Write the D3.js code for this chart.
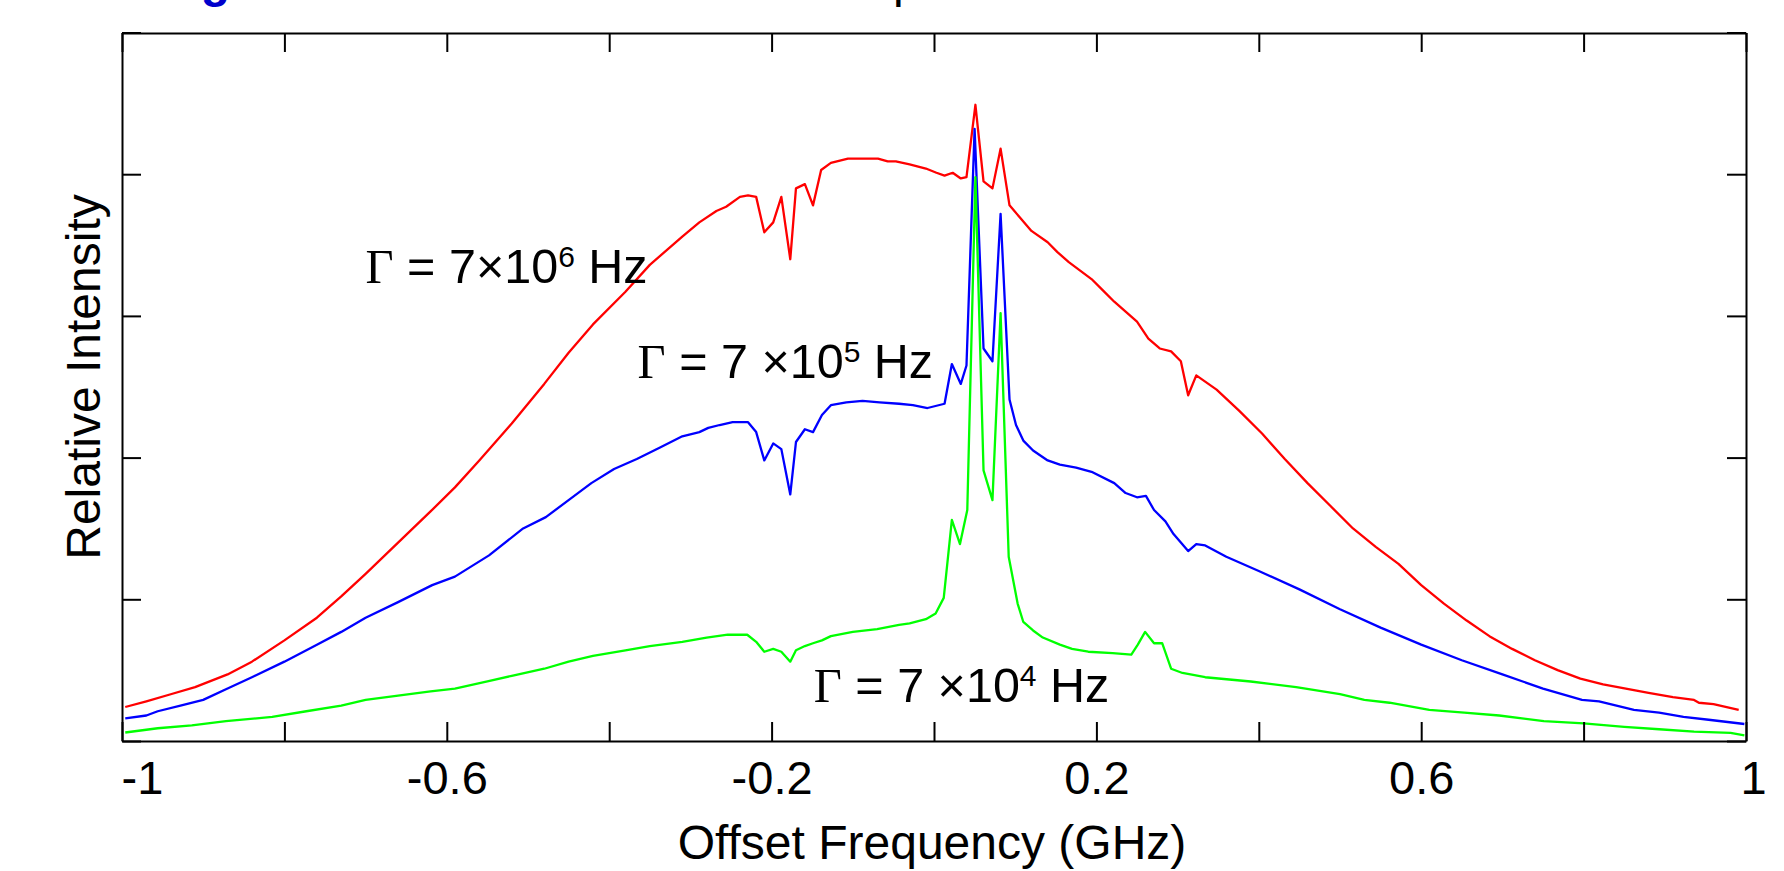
<!DOCTYPE html>
<html>
<head>
<meta charset="utf-8">
<script src="https://d3js.org/d3.v7.min.js"></script>
<style>
    body { margin: 0; background: #ffffff; }
    text { font-family: "Liberation Sans", Arial, sans-serif; }
</style>
</head>
<body>
<div id="drawing_region"></div>
<script>
// x ticks (GHz) and which of them carry a label
const xTickValues = [-1, -0.8, -0.6, -0.4, -0.2, 0, 0.2, 0.4, 0.6, 0.8, 1];
const xTickLabels = ["-1", "", "-0.6", "", "-0.2", "", "0.2", "", "0.6", "", "1"];
const yTickValues = [0, 1, 2, 3, 4, 5];

// [offset frequency (GHz), relative intensity]
const red = [
    [-0.996,0.24],[-0.97,0.28],[-0.94,0.33],[-0.91,0.38],[-0.87,0.47],[-0.84,0.56],[-0.80,0.71],
    [-0.76,0.87],[-0.73,1.02],[-0.70,1.18],[-0.66,1.40],[-0.62,1.62],[-0.59,1.79],[-0.56,1.98],
    [-0.52,2.24],[-0.48,2.52],[-0.45,2.74],[-0.42,2.94],[-0.38,3.17],[-0.35,3.36],[-0.31,3.56],
    [-0.289,3.66],[-0.268,3.74],[-0.256,3.77],[-0.239,3.84],[-0.229,3.85],[-0.219,3.84],
    [-0.209,3.59],[-0.198,3.66],[-0.188,3.84],[-0.177,3.40],[-0.170,3.90],[-0.159,3.93],
    [-0.149,3.78],[-0.139,4.03],[-0.127,4.08],[-0.106,4.11],[-0.069,4.11],[-0.057,4.09],
    [-0.047,4.09],[-0.030,4.07],[-0.010,4.04],[0.003,4.01],[0.013,3.99],[0.023,4.01],
    [0.033,3.97],[0.040,3.98],[0.051,4.49],[0.061,3.95],[0.072,3.90],[0.082,4.18],[0.093,3.78],
    [0.105,3.70],[0.120,3.60],[0.140,3.52],[0.152,3.45],[0.166,3.38],[0.180,3.32],[0.194,3.26],
    [0.208,3.18],[0.222,3.10],[0.236,3.03],[0.250,2.96],[0.264,2.84],[0.278,2.77],[0.292,2.75],
    [0.304,2.68],[0.313,2.44],[0.323,2.58],[0.348,2.48],[0.376,2.33],[0.404,2.17],[0.432,1.99],
    [0.460,1.82],[0.488,1.66],[0.516,1.50],[0.544,1.37],[0.572,1.25],[0.600,1.10],[0.628,0.97],
    [0.656,0.85],[0.684,0.74],[0.712,0.65],[0.740,0.57],[0.768,0.50],[0.796,0.44],[0.824,0.40],
    [0.852,0.37],[0.880,0.34],[0.910,0.31],[0.936,0.29],[0.942,0.27],[0.960,0.26],[0.991,0.22]
];
const blue = [
    [-0.996,0.16],[-0.97,0.18],[-0.956,0.21],[-0.928,0.25],[-0.90,0.29],[-0.87,0.37],[-0.84,0.45],
    [-0.80,0.56],[-0.76,0.68],[-0.73,0.77],[-0.70,0.87],[-0.66,0.98],[-0.618,1.10],[-0.59,1.16],
    [-0.548,1.31],[-0.506,1.50],[-0.478,1.58],[-0.45,1.70],[-0.422,1.82],[-0.394,1.92],
    [-0.366,1.99],[-0.338,2.07],[-0.31,2.15],[-0.289,2.18],[-0.278,2.21],[-0.264,2.23],
    [-0.248,2.25],[-0.229,2.25],[-0.219,2.18],[-0.209,1.98],[-0.198,2.10],[-0.188,2.06],
    [-0.177,1.74],[-0.170,2.11],[-0.159,2.20],[-0.149,2.18],[-0.138,2.30],[-0.127,2.37],
    [-0.108,2.39],[-0.088,2.40],[-0.067,2.39],[-0.043,2.38],[-0.026,2.37],[-0.008,2.35],
    [0.013,2.38],[0.022,2.66],[0.033,2.52],[0.040,2.65],[0.050,4.32],[0.061,2.77],[0.072,2.68],
    [0.082,3.72],[0.093,2.41],[0.101,2.23],[0.110,2.12],[0.122,2.05],[0.140,1.98],[0.155,1.95],
    [0.175,1.93],[0.194,1.90],[0.222,1.82],[0.236,1.75],[0.250,1.72],[0.261,1.73],[0.271,1.63],
    [0.285,1.55],[0.295,1.46],[0.313,1.34],[0.323,1.39],[0.334,1.38],[0.36,1.30],[0.40,1.20],
    [0.45,1.07],[0.50,0.93],[0.55,0.80],[0.60,0.68],[0.65,0.57],[0.70,0.47],[0.75,0.37],
    [0.798,0.29],[0.819,0.28],[0.862,0.22],[0.893,0.20],[0.923,0.17],[0.954,0.15],[0.998,0.12]
];
const green = [
    [-0.996,0.06],[-0.956,0.09],[-0.914,0.11],[-0.872,0.14],[-0.815,0.17],[-0.773,0.21],
    [-0.73,0.25],[-0.70,0.29],[-0.66,0.32],[-0.62,0.35],[-0.59,0.37],[-0.55,0.42],[-0.52,0.46],
    [-0.48,0.51],[-0.45,0.56],[-0.42,0.60],[-0.38,0.64],[-0.35,0.67],[-0.31,0.70],[-0.28,0.73],
    [-0.254,0.75],[-0.23,0.75],[-0.219,0.70],[-0.209,0.63],[-0.198,0.65],[-0.188,0.63],
    [-0.177,0.56],[-0.170,0.64],[-0.159,0.67],[-0.149,0.69],[-0.138,0.71],[-0.127,0.74],
    [-0.10,0.77],[-0.07,0.79],[-0.043,0.82],[-0.030,0.83],[-0.010,0.86],[0.002,0.90],[0.012,1.01],
    [0.022,1.56],[0.032,1.39],[0.041,1.63],[0.051,3.98],[0.061,1.91],[0.072,1.70],[0.082,3.02],
    [0.092,1.30],[0.103,0.97],[0.110,0.84],[0.122,0.78],[0.134,0.73],[0.155,0.68],[0.17,0.65],
    [0.19,0.63],[0.22,0.62],[0.243,0.61],[0.251,0.68],[0.260,0.77],[0.271,0.69],[0.281,0.69],
    [0.292,0.51],[0.306,0.48],[0.334,0.45],[0.39,0.42],[0.446,0.38],[0.50,0.33],[0.53,0.29],
    [0.561,0.27],[0.61,0.22],[0.653,0.20],[0.696,0.18],[0.751,0.14],[0.80,0.125],[0.85,0.10],
    [0.893,0.083],[0.936,0.066],[0.981,0.058],[0.998,0.04]
];

// curve labels: Γ = mantissa ×10^exp Hz, anchored in data coordinates
const labelText = [
    { mant: "7×10", exp: "6", f: -0.700, v: 3.232 },
    { mant: "7 ×10", exp: "5", f: -0.365, v: 2.562 },
    { mant: "7 ×10", exp: "4", f: -0.148, v: 0.277 }
];

class SpectrumChart {

    constructor( config ) {
        this.config = {
            parent: config.parent,
            width: config.width || 1784,
            height: config.height || 871,
            margin: config.margin || {top: 33, right: 38, bottom: 130, left: 122}
        };
        this.init();
    }

    init() {
        let self = this;

        self.svg = d3.select( self.config.parent )
            .append('svg')
            .attr('width', self.config.width)
            .attr('height', self.config.height);

        self.chart = self.svg.append('g')
            .attr('transform', `translate(${self.config.margin.left}, ${self.config.margin.top})`);

        self.inner_width = self.config.width - self.config.margin.left - self.config.margin.right;
        self.inner_height = self.config.height - self.config.margin.top - self.config.margin.bottom;

        self.xscale = d3.scaleLinear().domain([-1, 1]).range([0, self.inner_width]);
        self.yscale = d3.scaleLinear().domain([0, 5]).range([self.inner_height, -0.5]);

        self.line = d3.line()
            .x( d => self.xscale(d[0]) )
            .y( d => self.yscale(d[1]) );
    }

    render() {
        let self = this;
        const tick = 19;

        // title fragment, cut off by the top edge as in the original
        self.svg.append('text')
            .attr('x', 158).attr('y', -3)
            .attr('font-size', 48).attr('font-weight', 'bold')
            .attr('fill', '#0000cc')
            .text('Fig');
        self.svg.append('text')
            .attr('x', 893).attr('y', -3)
            .attr('font-size', 48)
            .attr('fill', '#000')
            .text('p');

        // curves
        [[red, '#ff0000'], [blue, '#0000ff'], [green, '#00ff00']].forEach( ([d, c]) => {
            self.chart.append('path')
                .attr('d', self.line(d))
                .attr('stroke', c)
                .attr('stroke-width', 2.3)
                .attr('stroke-linejoin', 'round')
                .attr('fill', 'none');
        });

        // frame with inward ticks on all sides
        const xBottom = d3.axisBottom(self.xscale).tickValues(xTickValues)
            .tickSizeInner(-tick).tickSizeOuter(0).tickPadding(20)
            .tickFormat( (d, i) => xTickLabels[i] );
        const xTop = d3.axisTop(self.xscale).tickValues(xTickValues)
            .tickSizeInner(-tick).tickSizeOuter(0).tickFormat('');
        const yLeft = d3.axisLeft(self.yscale).tickValues(yTickValues)
            .tickSizeInner(-tick).tickSizeOuter(0).tickFormat('');
        const yRight = d3.axisRight(self.yscale).tickValues(yTickValues)
            .tickSizeInner(-tick).tickSizeOuter(0).tickFormat('');

        const gb = self.chart.append('g')
            .attr('transform', `translate(0, ${self.inner_height})`).call(xBottom);
        self.chart.append('g').call(xTop);
        self.chart.append('g').call(yLeft);
        self.chart.append('g')
            .attr('transform', `translate(${self.inner_width}, 0)`).call(yRight);

        self.chart.selectAll('.domain, .tick line')
            .attr('stroke', '#000').attr('stroke-width', 2);

        gb.selectAll('text')
            .attr('font-size', 47)
            .attr('font-family', '"Liberation Sans", Arial, sans-serif')
            .attr('fill', '#000');
        gb.selectAll('.tick').filter( d => d === -1 ).select('text')
            .attr('text-anchor', 'start').attr('dx', -1);
        gb.selectAll('.tick').filter( d => d === 1 ).select('text')
            .attr('dx', 7);

        // axis titles
        self.chart.append('text')
            .attr('x', self.inner_width / 2 - 2)
            .attr('y', self.inner_height + 118)
            .attr('text-anchor', 'middle')
            .attr('font-size', 48)
            .text('Offset Frequency (GHz)');

        self.svg.append('text')
            .attr('transform', `translate(100, 377) rotate(-90)`)
            .attr('text-anchor', 'middle')
            .attr('font-size', 48)
            .text('Relative Intensity');

        // curve labels
        labelText.forEach( l => {
            const t = self.chart.append('text')
                .attr('x', self.xscale(l.f))
                .attr('y', self.yscale(l.v))
                .attr('font-size', 48.5)
                .style('white-space', 'pre');
            t.append('tspan')
                .attr('font-family', '"Liberation Serif", "Times New Roman", serif')
                .text('Γ');
            t.append('tspan').text(' = ' + l.mant);
            t.append('tspan').attr('font-size', 30).attr('dy', -16).text(l.exp);
            t.append('tspan').attr('dy', 16).text(' Hz');
        });
    }
}

const chart = new SpectrumChart({ parent: '#drawing_region', width: 1784, height: 871 });
chart.render();
</script>
</body>
</html>
